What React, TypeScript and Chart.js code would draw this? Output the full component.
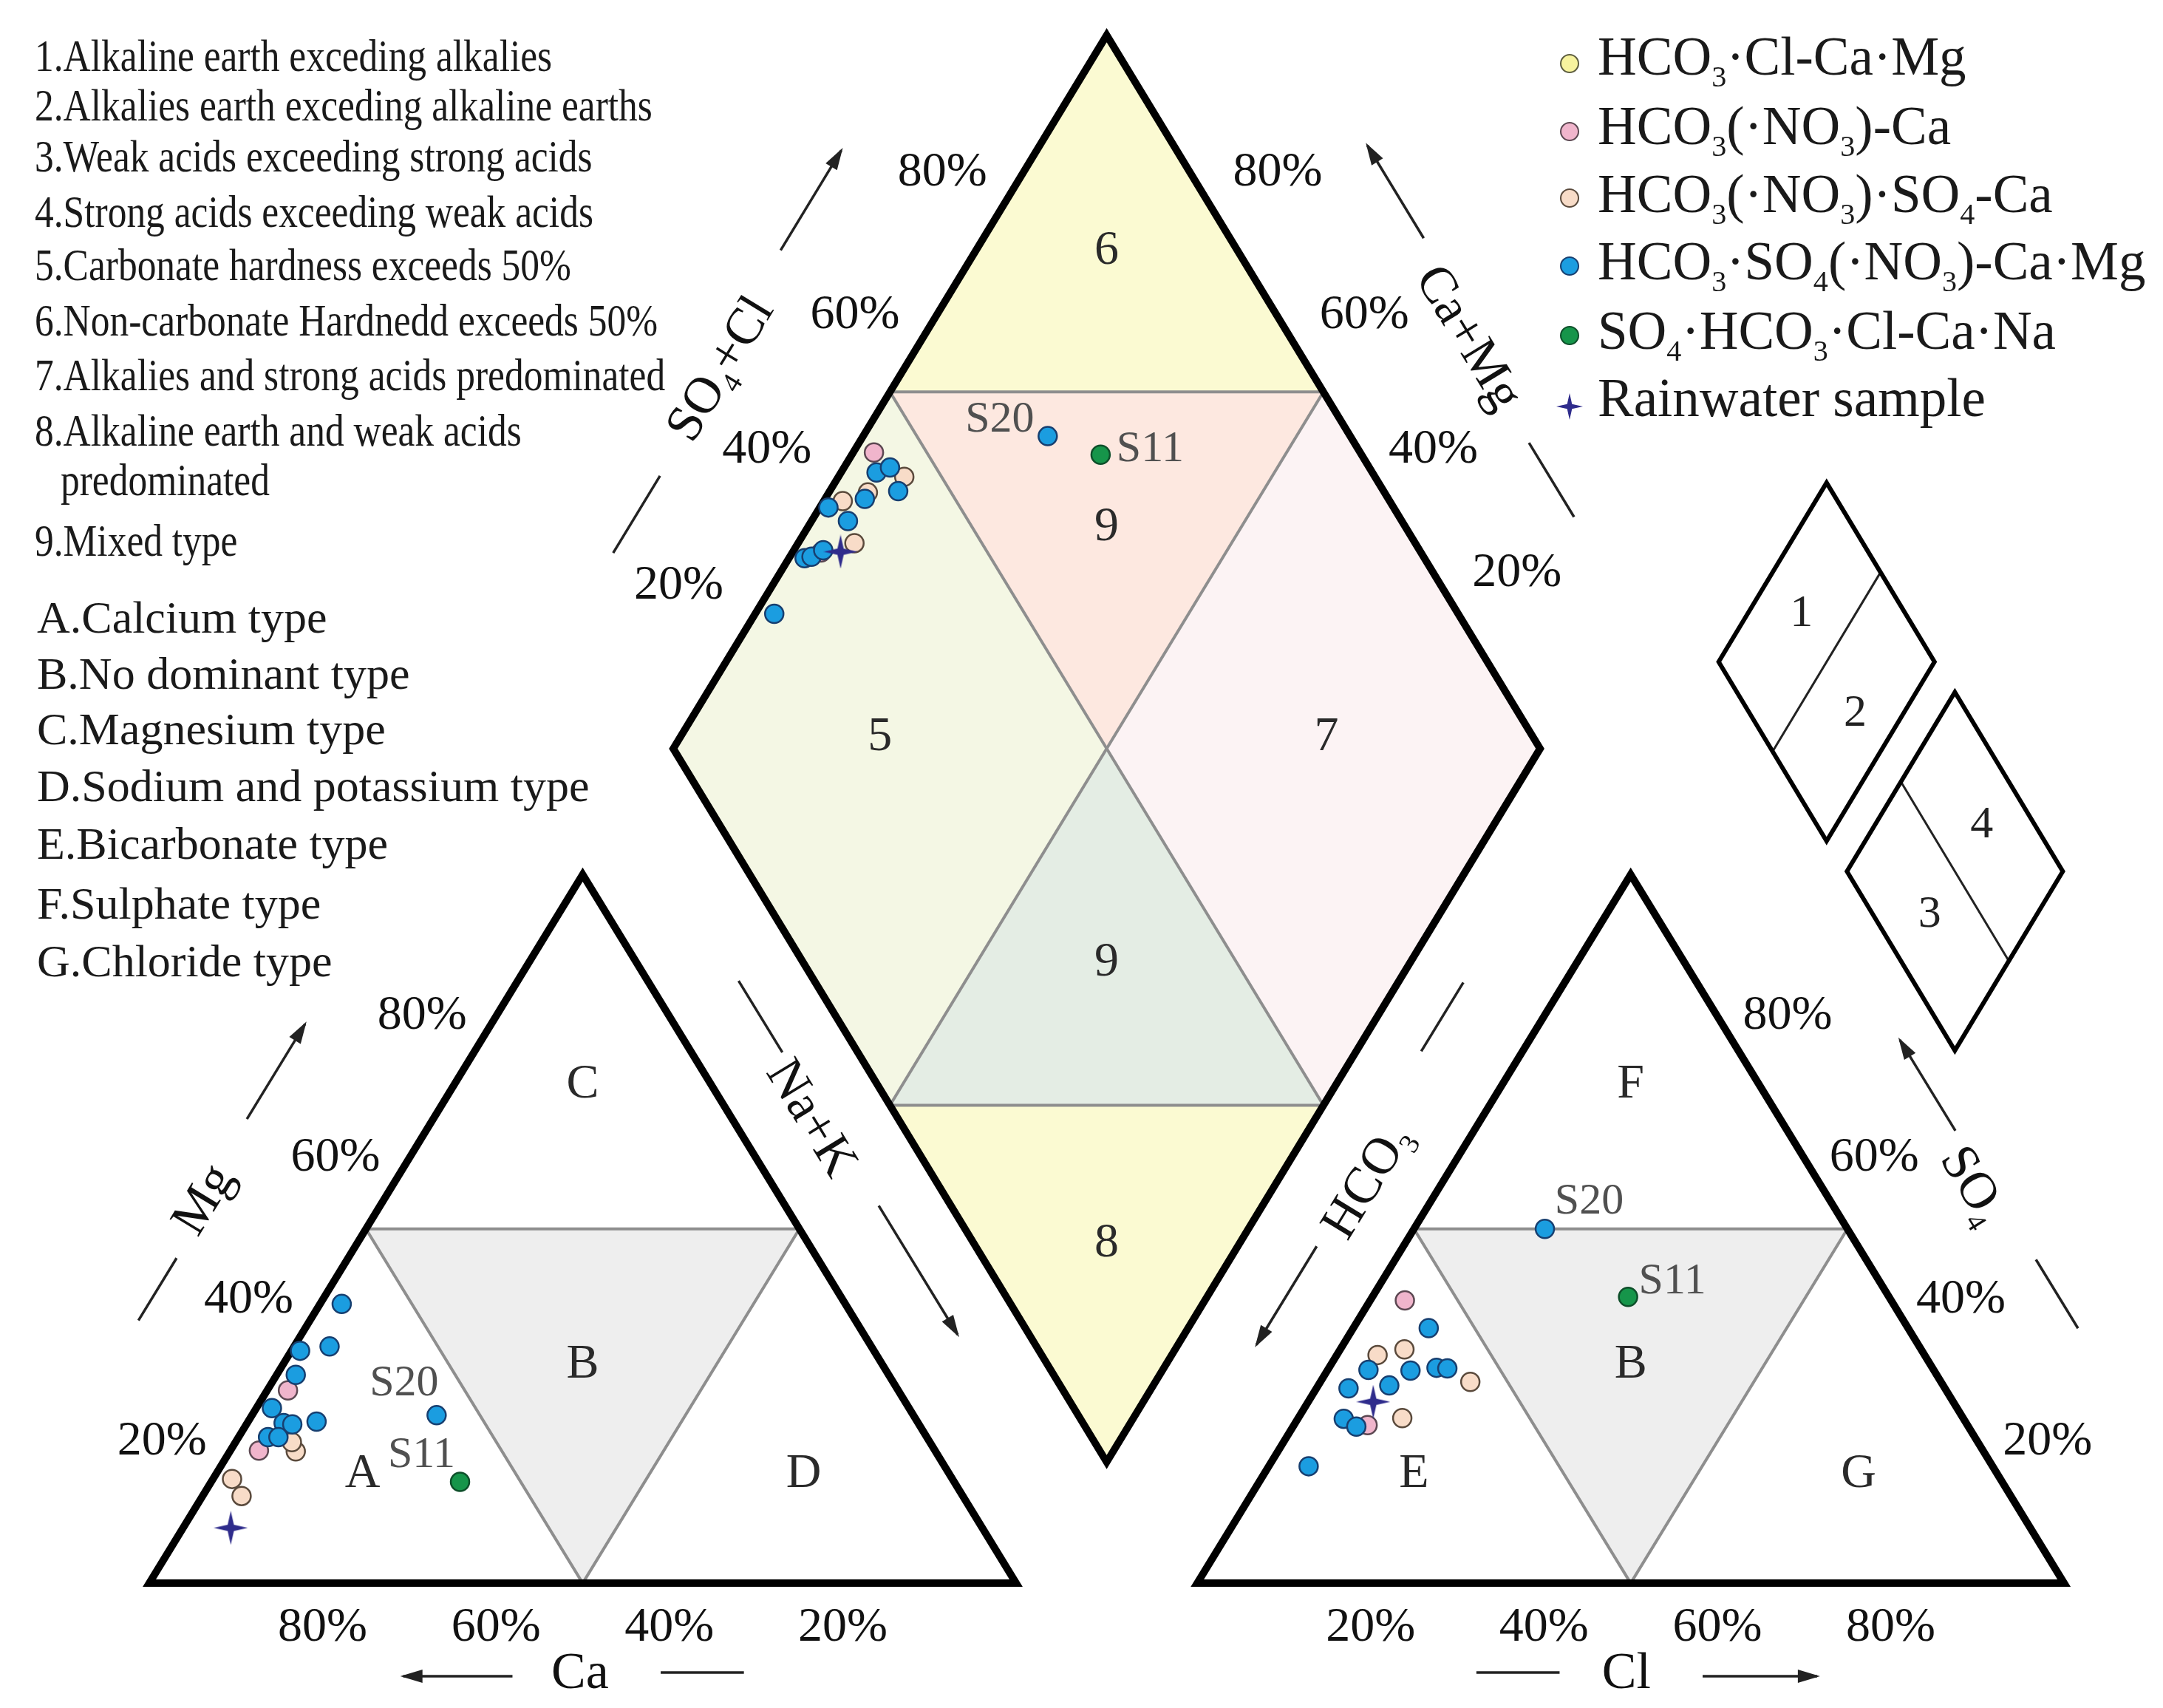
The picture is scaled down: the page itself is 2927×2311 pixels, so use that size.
import React, { useEffect, useRef } from 'react';
import { Chart, registerables } from 'chart.js';

Chart.register(...registerables);

const FONT = "'Liberation Serif', 'Times New Roman', Times, serif";
const CW = 2927;
const CH = 2311;

// ---------- samples (meq %) ----------
// cation triangle: Mg and Na+K (Ca is the remainder)
// anion triangle: SO4 and Cl (HCO3 is the remainder)
const blueMg = [29.4, 24.7, 39.4, 20.6, 32.8, 22.6, 20.6, 33.4, 22.8, 22.4, 23.7];
const blueNaK = [2.2, 1.8, 2.5, 3.4, 1.0, 4.2, 4.6, 4.1, 7.9, 5.3, 21.3];
const blueSO4 = [16.5, 23.2, 22.1, 27.5, 30.1, 27.9, 30.0, 30.4, 30.3, 36.0, 50.0];
const blueCl = [4.6, 5.3, 7.3, 3.7, 4.7, 8.2, 9.6, 12.4, 13.7, 8.7, 15.1];

const pinkMg = [27.2, 18.7];
const pinkNaK = [2.4, 3.3];
const pinkSO4 = [39.9, 22.3];
const pinkCl = [4.0, 8.5];

const peachMg = [14.7, 12.3, 18.6, 19.9];
const peachNaK = [2.2, 4.5, 7.6, 6.5];
const peachSO4 = [32.2, 33.0, 28.4, 23.3];
const peachCl = [4.7, 7.4, 17.3, 12.0];

const greenMg = [14.3];
const greenNaK = [28.7];
const greenSO4 = [40.4];
const greenCl = [29.5];

const yellowMg: number[] = [];
const yellowNaK: number[] = [];
const yellowSO4: number[] = [];
const yellowCl: number[] = [];

const rainMg = [7.8];
const rainNaK = [5.5];
const rainSO4 = [25.6];
const rainCl = [7.5];

// named samples: series key and index
const namedSamples = [
  { label: 'S20', series: 'blue', index: 10, off: [[-44, -43], [60, -36], [-65, -22]] },
  { label: 'S11', series: 'green', index: 0, off: [[-52, -36], [60, -21], [67, -7]] },
];

const tickPercents = [20, 40, 60, 80];

type Seg = [string, number?];

const legendNames: Seg[][] = [
  [['HCO'], ['3', 1], ['·Cl-Ca·Mg']],
  [['HCO'], ['3', 1], ['(·NO'], ['3', 1], [')-Ca']],
  [['HCO'], ['3', 1], ['(·NO'], ['3', 1], [')·SO'], ['4', 1], ['-Ca']],
  [['HCO'], ['3', 1], ['·SO'], ['4', 1], ['(·NO'], ['3', 1], [')-Ca·Mg']],
  [['SO'], ['4', 1], ['·HCO'], ['3', 1], ['·Cl-Ca·Na']],
  [['Rainwater sample']],
];

const zoneNotes = [
  '1.Alkaline earth exceding alkalies',
  '2.Alkalies earth exceding alkaline earths',
  '3.Weak acids exceeding strong acids',
  '4.Strong acids exceeding weak acids',
  '5.Carbonate hardness exceeds 50%',
  '6.Non-carbonate Hardnedd exceeds 50%',
  '7.Alkalies and strong acids predominated',
  '8.Alkaline earth and weak acids',
  'predominated',
  '9.Mixed type',
];
const zoneNoteY = [80, 147, 216, 291, 363, 438, 512, 587, 654, 736];

const typeNotes = [
  'A.Calcium type',
  'B.No dominant type',
  'C.Magnesium type',
  'D.Sodium and potassium type',
  'E.Bicarbonate type',
  'F.Sulphate type',
  'G.Chloride type',
];
const typeNoteY = [840, 916, 991, 1068, 1146, 1227, 1305];

// ---------- geometry (data units) ----------
type P = [number, number];
const XMIN = -17.22, XMAX = 232.31, YMIN = -15.26, YMAX = 193.5;
const TH = 86.6;
const RX0 = 120.9;
const LA: P = [0, 0], LB: P = [100, 0], LC: P = [50, TH];
const RA: P = [RX0, 0], RB: P = [RX0 + 100, 0], RC: P = [RX0 + 50, TH];
const DB: P = [110.45, 14.8], DL: P = [60.45, 102], DR: P = [160.45, 102], DT: P = [110.45, 189.2];
const LCEN: P = [50, 28.9], RCEN: P = [RX0 + 50, 28.9];

const lerp = (a: P, b: P, t: number): P => [a[0] + (b[0] - a[0]) * t, a[1] + (b[1] - a[1]) * t];
const mid = (a: P, b: P): P => lerp(a, b, 0.5);
const DC: P = mid(DB, DT);
const M1 = mid(DL, DT), M2 = mid(DR, DT), M3 = mid(DR, DB), M4 = mid(DL, DB);

function cationPt(mg: number, nak: number): P {
  return [0.5 * mg + nak, (TH * mg) / 100];
}
function anionPt(so4: number, cl: number): P {
  return [RX0 + 0.5 * so4 + cl, (TH * so4) / 100];
}
function diamondPt(nak: number, so4: number, cl: number): P {
  const cm = (100 - nak) / 100;
  const sc = (so4 + cl) / 100;
  return [
    DB[0] + cm * (DL[0] - DB[0]) + sc * (DR[0] - DB[0]),
    DB[1] + cm * (DL[1] - DB[1]) + sc * (DR[1] - DB[1]),
  ];
}

const series: any[] = [
  { key: 'yellow', mg: yellowMg, nak: yellowNaK, so4: yellowSO4, cl: yellowCl, fill: '#f7f39e', stroke: '#5e5e40', order: 6 },
  { key: 'peach', mg: peachMg, nak: peachNaK, so4: peachSO4, cl: peachCl, fill: '#f8dcc8', stroke: '#5a4a3c', order: 5 },
  { key: 'pink', mg: pinkMg, nak: pinkNaK, so4: pinkSO4, cl: pinkCl, fill: '#f0b5cc', stroke: '#5c4852', order: 4 },
  { key: 'blue', mg: blueMg, nak: blueNaK, so4: blueSO4, cl: blueCl, fill: '#1b9de0', stroke: '#173f70', order: 3 },
  { key: 'green', mg: greenMg, nak: greenNaK, so4: greenSO4, cl: greenCl, fill: '#16954a', stroke: '#0e4f2a', order: 2 },
  { key: 'rain', mg: rainMg, nak: rainNaK, so4: rainSO4, cl: rainCl, fill: '#2f2c8c', stroke: '#2f2c8c', order: 1, star: true },
];
const legendOrder = ['yellow', 'pink', 'peach', 'blue', 'green', 'rain'];

function plots(s: any): P[][] {
  const cat = s.mg.map((mg: number, i: number) => cationPt(mg, s.nak[i]));
  const an = s.so4.map((so4: number, i: number) => anionPt(so4, s.cl[i]));
  const dia = s.mg.map((_: number, i: number) => diamondPt(s.nak[i], s.so4[i], s.cl[i]));
  return [cat, an, dia];
}

const closed = (poly: P[]): P[] => [mid(poly[0], poly[1]), ...poly.slice(1), poly[0], mid(poly[0], poly[1])];

// small legend diamonds
const smallDia = [
  { c: [193.5, 112.6] as P, cut: 'rl', labels: [['1', -2.9, 5.9], ['2', 3.3, -6.3]] },
  { c: [208.3, 87.0] as P, cut: 'lr', labels: [['4', 3.1, 5.6], ['3', -2.9, -5.3]] },
];
const SDW = 12.45, SDH = 21.9;
function smallVerts(c: P) {
  return {
    t: [c[0], c[1] + SDH] as P,
    l: [c[0] - SDW, c[1]] as P,
    r: [c[0] + SDW, c[1]] as P,
    b: [c[0], c[1] - SDH] as P,
  };
}

const axisNotes: any[] = [
  { text: [['Mg']], p0: LA, p1: LC, away: LCEN, line: [0.263, 0.351], lineOff: 198, title: 0.428, titleOff: 206, arrow: [0.538, 0.672], arrowOff: 215 },
  { text: [['Ca']], p0: LA, p1: LB, away: LCEN, line: [0.59, 0.686], lineOff: 121, title: 0.497, titleOff: 124, arrow: [0.419, 0.293], arrowOff: 126 },
  { text: [['Na+K']], p0: LC, p1: LB, away: LCEN, line: [0.207, 0.308], lineOff: 105, title: 0.394, titleOff: 90, arrow: [0.526, 0.708], arrowOff: 108 },
  { text: [['SO'], ['4', 1], ['+Cl']], p0: DL, p1: DT, away: DC, line: [0.163, 0.271], lineOff: 207, title: 0.418, titleOff: 210, arrow: [0.577, 0.717], arrowOff: 226 },
  { text: [['Ca+Mg']], p0: DR, p1: DT, away: DC, line: [0.216, 0.32], lineOff: 202, title: 0.465, titleOff: 204, arrow: [0.595, 0.725], arrowOff: 224 },
  { text: [['HCO'], ['3', 1]], p0: RA, p1: RC, away: RCEN, line: [0.687, 0.784], lineOff: 117, title: 0.519, titleOff: 86, arrow: [0.421, 0.282], arrowOff: 100 },
  { text: [['Cl']], p0: RA, p1: RB, away: RCEN, line: [0.322, 0.418], lineOff: 121, title: 0.495, titleOff: 124, arrow: [0.583, 0.715], arrowOff: 126 },
  { text: [['SO'], ['4', 1]], p0: RB, p1: RC, away: RCEN, line: [0.253, 0.35], lineOff: 196, title: 0.466, titleOff: 174, arrow: [0.533, 0.661], arrowOff: 194 },
];

// label offsets (pixels) per tick value 20,40,60,80
const tickSets: any[] = [
  { pos: (v: number): P => [100 - v, 0], dx: [0, 0, 0, 0], dy: [61, 61, 61, 61] },
  { pos: (v: number): P => [0.5 * v, (TH * v) / 100], dx: [-100, -100, -100, -100], dy: [0, 0, 0, 0] },
  { pos: (v: number): P => [RX0 + v, 0], dx: [0, 0, 0, 0], dy: [61, 61, 61, 61] },
  { pos: (v: number): P => [RX0 + 100 - 0.5 * v, (TH * v) / 100], dx: [95, 95, 95, 95], dy: [0, 0, 0, 0] },
  { pos: (v: number): P => lerp(DL, DT, v / 100), dx: [-110, -108, -106, -105], dy: [-27, -18, -7, -7] },
  { pos: (v: number): P => lerp(DR, DT, v / 100), dx: [86, 90, 114, 114], dy: [-44, -18, -7, -7] },
];

const regionLabels: [string, number, number][] = [
  ['6', DC[0], 162.8], ['9', DC[0], 129.0], ['5', 84.3, 103.4], ['7', 135.8, 103.4], ['9', DC[0], 75.8], ['8', DC[0], 41.5],
  ['C', 50, 60.9], ['B', 50, 26.7], ['A', 24.6, 13.3], ['D', 75.5, 13.3],
  ['F', RX0 + 50, 60.9], ['B', RX0 + 50, 26.7], ['E', RX0 + 25, 13.3], ['G', RX0 + 76.3, 13.3],
];

const fills: [P[], string][] = [
  [[DT, M1, M2], '#fbfad2'],
  [[M1, M2, DC], '#fde8e0'],
  [[DL, M1, DC, M4], '#f4f7e4'],
  [[DR, M2, DC, M3], '#fcf3f4'],
  [[M4, DC, M3], '#e4ede4'],
  [[DB, M4, M3], '#fbfad2'],
  [[mid(LA, LC), mid(LC, LB), mid(LA, LB)], '#eeeeee'],
  [[mid(RA, RC), mid(RC, RB), mid(RA, RB)], '#eeeeee'],
];

function drawRich(ctx: CanvasRenderingContext2D, segs: Seg[], x: number, y: number, size: number, o: any = {}) {
  ctx.save();
  ctx.translate(x, y);
  if (o.rot) ctx.rotate(o.rot);
  ctx.scale(o.sx ?? 1, 1);
  const sub = size * 0.55;
  const widths: number[] = [];
  let total = 0;
  for (const [t, s] of segs) {
    ctx.font = `${s ? sub : size}px ${FONT}`;
    const w = ctx.measureText(t).width;
    widths.push(w);
    total += w;
  }
  let cx = o.align === 'center' ? -total / 2 : 0;
  ctx.fillStyle = o.color ?? '#111';
  ctx.textBaseline = 'middle';
  ctx.textAlign = 'left';
  segs.forEach(([t, s], i) => {
    ctx.font = `${s ? sub : size}px ${FONT}`;
    ctx.fillText(t, cx, s ? size * 0.33 : 0);
    cx += widths[i];
  });
  ctx.restore();
}

function arrowLine(ctx: CanvasRenderingContext2D, a: number[], b: number[], head: boolean) {
  ctx.beginPath();
  ctx.moveTo(a[0], a[1]);
  ctx.lineTo(b[0], b[1]);
  ctx.stroke();
  if (!head) return;
  const ang = Math.atan2(b[1] - a[1], b[0] - a[0]);
  const L = 26, Wd = 9;
  ctx.beginPath();
  ctx.moveTo(b[0] + Math.cos(ang) * 4, b[1] + Math.sin(ang) * 4);
  ctx.lineTo(b[0] - Math.cos(ang) * L - Math.sin(ang) * Wd, b[1] - Math.sin(ang) * L + Math.cos(ang) * Wd);
  ctx.lineTo(b[0] - Math.cos(ang) * L + Math.sin(ang) * Wd, b[1] - Math.sin(ang) * L - Math.cos(ang) * Wd);
  ctx.closePath();
  ctx.fill();
}

function makeStar(size: number, color: string) {
  const c = document.createElement('canvas');
  c.width = size;
  c.height = size;
  const g = c.getContext('2d')!;
  const r = size / 2, ri = size * 0.13;
  g.fillStyle = color;
  g.beginPath();
  for (let k = 0; k < 8; k++) {
    const ang = -Math.PI / 2 + (k * Math.PI) / 4;
    const rr = k % 2 === 0 ? r : ri;
    g.lineTo(r + rr * Math.cos(ang), r + rr * Math.sin(ang));
  }
  g.closePath();
  g.fill();
  return c;
}

const piperPlugin: any = {
  id: 'piperDecor',
  beforeDatasetsDraw(chart: any) {
    const ctx: CanvasRenderingContext2D = chart.ctx;
    const px = (p: P) => [chart.scales.x.getPixelForValue(p[0]), chart.scales.y.getPixelForValue(p[1])];
    ctx.save();
    ctx.fillStyle = '#ffffff';
    ctx.fillRect(0, 0, chart.width, chart.height);
    for (const [poly, color] of fills) {
      ctx.beginPath();
      poly.forEach((p, i) => {
        const q = px(p);
        if (i === 0) ctx.moveTo(q[0], q[1]);
        else ctx.lineTo(q[0], q[1]);
      });
      ctx.closePath();
      ctx.fillStyle = color;
      ctx.fill();
    }
    ctx.restore();
  },
  afterDatasetsDraw(chart: any) {
    const ctx: CanvasRenderingContext2D = chart.ctx;
    const px = (p: P) => [chart.scales.x.getPixelForValue(p[0]), chart.scales.y.getPixelForValue(p[1])];
    ctx.save();

    for (const [t, x, y] of regionLabels) {
      const q = px([x, y]);
      drawRich(ctx, [[t]], q[0], q[1], 66, { align: 'center', color: '#2a2a2a' });
    }
    for (const d of smallDia) {
      for (const [t, ox, oy] of d.labels as any[]) {
        const q = px([d.c[0] + ox, d.c[1] + oy]);
        drawRich(ctx, [[t]], q[0], q[1], 62, { align: 'center', color: '#222' });
      }
    }
    for (const ts of tickSets) {
      tickPercents.forEach((v, k) => {
        const q = px(ts.pos(v));
        drawRich(ctx, [[`${v}%`]], q[0] + ts.dx[k], q[1] + ts.dy[k], 66, { align: 'center', color: '#111' });
      });
    }
    ctx.lineWidth = 3.5;
    for (const n of axisNotes) {
      const a = px(n.p0), b = px(n.p1);
      const dx = b[0] - a[0], dy = b[1] - a[1];
      const len = Math.hypot(dx, dy);
      const ux = dx / len, uy = dy / len;
      let nx = uy, ny = -ux;
      const c = px(n.away);
      const m = [(a[0] + b[0]) / 2, (a[1] + b[1]) / 2];
      if (nx * (m[0] - c[0]) + ny * (m[1] - c[1]) < 0) { nx = -nx; ny = -ny; }
      const at = (t: number, off: number) => [a[0] + dx * t + nx * off, a[1] + dy * t + ny * off];
      ctx.strokeStyle = '#222';
      ctx.fillStyle = '#222';
      arrowLine(ctx, at(n.line[0], n.lineOff), at(n.line[1], n.lineOff), false);
      arrowLine(ctx, at(n.arrow[0], n.arrowOff), at(n.arrow[1], n.arrowOff), true);
      let ang = Math.atan2(uy, ux);
      if (Math.cos(ang) < -1e-6) ang += Math.PI;
      const tp = at(n.title, n.titleOff);
      drawRich(ctx, n.text, tp[0], tp[1], 70, { align: 'center', rot: ang, color: '#111' });
    }
    for (const ns of namedSamples) {
      const s = series.find((q) => q.key === ns.series);
      const pl = plots(s);
      pl.forEach((pts, k) => {
        const q = px(pts[ns.index]);
        drawRich(ctx, [[ns.label]], q[0] + ns.off[k][0], q[1] + ns.off[k][1], 60, { align: 'center', color: '#505050' });
      });
    }
    zoneNotes.forEach((t, i) => {
      drawRich(ctx, [[t]], i === 8 ? 82 : 47, zoneNoteY[i], 62, { sx: 0.83, color: '#1a1a1a' });
    });
    typeNotes.forEach((t, i) => {
      drawRich(ctx, [[t]], 50, typeNoteY[i], 62, { color: '#1a1a1a' });
    });
    const textY = [82, 176, 268, 359, 453, 544];
    const iconY = [86, 178, 268, 360, 454, 550];
    legendOrder.forEach((key, i) => {
      const s = series.find((q) => q.key === key);
      if (s.star) {
        const st = makeStar(36, s.fill);
        ctx.drawImage(st, 2124 - 18, iconY[i] - 18);
      } else {
        ctx.beginPath();
        ctx.arc(2124, iconY[i], 12, 0, Math.PI * 2);
        ctx.fillStyle = s.fill;
        ctx.fill();
        ctx.lineWidth = 2;
        ctx.strokeStyle = s.stroke;
        ctx.stroke();
      }
      drawRich(ctx, legendNames[i], 2162, textY[i], 73, { color: '#1a1a1a' });
    });
    ctx.restore();
  },
};

function lineDs(pts: P[], color: string, width: number, order: number) {
  return {
    type: 'scatter',
    data: pts.map((p) => ({ x: p[0], y: p[1] })),
    showLine: true,
    borderColor: color,
    backgroundColor: color,
    borderWidth: width,
    pointRadius: 0,
    pointHoverRadius: 0,
    fill: false,
    tension: 0,
    borderJoinStyle: 'miter',
    borderCapStyle: 'butt',
    order,
    clip: false,
  };
}

export default function App() {
  const ref = useRef<HTMLCanvasElement>(null);
  useEffect(() => {
    const canvas = ref.current;
    if (!canvas) return;
    const star = makeStar(46, '#2f2c8c');
    const datasets: any[] = [];
    const gray = '#8e8e8e';
    datasets.push(lineDs(closed([mid(LA, LC), mid(LC, LB), mid(LA, LB)]), gray, 4, 30));
    datasets.push(lineDs(closed([mid(RA, RC), mid(RC, RB), mid(RA, RB)]), gray, 4, 30));
    datasets.push(lineDs([M1, M2], gray, 4, 30));
    datasets.push(lineDs([M4, M3], gray, 4, 30));
    datasets.push(lineDs([M1, M3], gray, 4, 30));
    datasets.push(lineDs([M2, M4], gray, 4, 30));
    datasets.push(lineDs(closed([LA, LB, LC]), '#000', 10, 20));
    datasets.push(lineDs(closed([RA, RB, RC]), '#000', 10, 20));
    datasets.push(lineDs(closed([DB, DR, DT, DL]), '#000', 10, 20));
    for (const d of smallDia) {
      const v = smallVerts(d.c);
      datasets.push(lineDs(closed([v.t, v.r, v.b, v.l]), '#000', 6, 20));
      if (d.cut === 'rl') datasets.push(lineDs([mid(v.t, v.r), mid(v.l, v.b)], '#222', 3, 20));
      else datasets.push(lineDs([mid(v.t, v.l), mid(v.r, v.b)], '#222', 3, 20));
    }
    for (const s of series) {
      const pts = plots(s).flat();
      datasets.push({
        type: 'scatter',
        label: s.key,
        data: pts.map((p) => ({ x: p[0], y: p[1] })),
        backgroundColor: s.fill,
        borderColor: s.stroke,
        pointRadius: s.star ? 10 : 12.5,
        pointBorderWidth: 2.5,
        pointStyle: s.star ? star : 'circle',
        order: s.order,
        clip: false,
      });
    }
    const chart = new Chart(canvas, {
      type: 'scatter',
      data: { datasets },
      options: {
        animation: false,
        responsive: false,
        devicePixelRatio: 1,
        events: [],
        layout: { padding: 0, autoPadding: false },
        plugins: { legend: { display: false }, tooltip: { enabled: false }, title: { display: false } },
        scales: {
          x: { type: 'linear', min: XMIN, max: XMAX, display: false },
          y: { type: 'linear', min: YMIN, max: YMAX, display: false },
        },
      } as any,
      plugins: [piperPlugin],
    } as any);
    return () => chart.destroy();
  }, []);
  return (
    <div style={{ position: 'absolute', left: 0, top: 0, width: CW, height: CH, background: '#fff' }}>
      <canvas ref={ref} width={CW} height={CH} style={{ width: CW, height: CH, display: 'block' }} />
    </div>
  );
}
